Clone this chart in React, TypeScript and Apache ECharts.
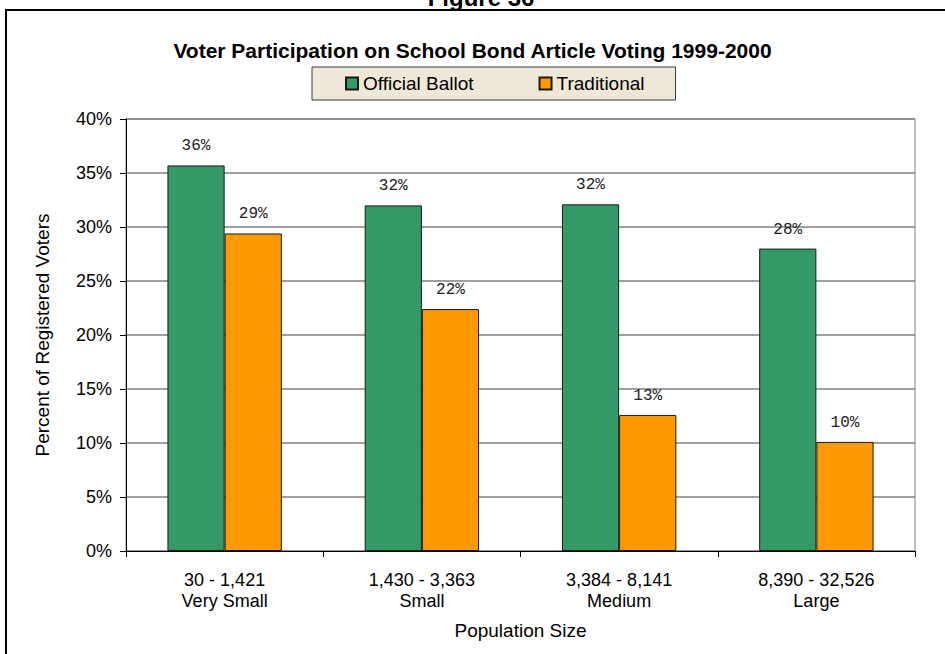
import React, { useEffect, useRef } from "react";
import * as echarts from "echarts";

// Population-size groups (two-line axis labels)
const categories: string[] = [
  "30 - 1,421\nVery Small",
  "1,430 - 3,363\nSmall",
  "3,384 - 8,141\nMedium",
  "8,390 - 32,526\nLarge",
];

// Share of registered voters taking part, by voting method
const officialBallot: number[] = [0.357, 0.320, 0.321, 0.280];
const traditional: number[] = [0.294, 0.224, 0.126, 0.101];

const seriesNames: string[] = ["Official Ballot", "Traditional"];

// Y axis ticks: 0% to 40% in 5% steps
const yMin = 0;
const yMax = 0.4;
const yStep = 0.05;

const GREEN = "#339966";
const ORANGE = "#FF9900";
const FONT = "Arial, 'Liberation Sans', sans-serif";
const MONO = "'Courier New', 'Liberation Mono', monospace";

const pct = (v: number) => `${Math.round(v * 100)}%`;

export default function App() {
  const ref = useRef<HTMLDivElement>(null);

  useEffect(() => {
    document.body.style.margin = "0";
    if (!ref.current) return;
    const chart = echarts.init(ref.current, undefined, { renderer: "svg" });

    const barLabel = {
      show: true,
      position: "top" as const,
      distance: 11,
      fontFamily: MONO,
      fontSize: 16,
      color: "#222",
      formatter: (p: any) => pct(p.value),
    };

    chart.setOption({
      animation: false,
      backgroundColor: "#ffffff",
      title: {
        text: "Voter Participation on School Bond Article Voting 1999-2000",
        left: "center",
        top: 35,
        textStyle: {
          fontFamily: FONT,
          fontSize: 21,
          fontWeight: "bold",
          color: "#000",
        },
      },
      legend: {
        data: seriesNames,
        left: 312,
        top: 67,
        orient: "horizontal",
        icon: "rect",
        itemWidth: 12,
        itemHeight: 12,
        itemGap: 65,
        padding: [7, 31, 7, 33],
        backgroundColor: "#EFE8D8",
        borderColor: "#3a3a3a",
        borderWidth: 1,
        textStyle: { fontFamily: FONT, fontSize: 19, color: "#000" },
      },
      grid: {
        left: 126,
        right: 30,
        top: 119,
        bottom: 103,
        show: true,
        borderColor: "#808080",
        borderWidth: 1,
        backgroundColor: "transparent",
      },
      xAxis: {
        type: "category",
        data: categories,
        name: "Population Size",
        nameLocation: "middle",
        nameGap: 70,
        nameTextStyle: { fontFamily: FONT, fontSize: 19, color: "#000" },
        axisLine: { show: true, lineStyle: { color: "#000", width: 1 } },
        axisTick: { show: true, length: 6, lineStyle: { color: "#000" } },
        axisLabel: {
          fontFamily: FONT,
          fontSize: 18,
          color: "#000",
          lineHeight: 21,
          margin: 18,
        },
        splitLine: { show: false },
      },
      yAxis: {
        type: "value",
        min: yMin,
        max: yMax,
        interval: yStep,
        name: "Percent of Registered Voters",
        nameLocation: "middle",
        nameGap: 74,
        nameTextStyle: { fontFamily: FONT, fontSize: 19, color: "#000" },
        axisLine: { show: true, lineStyle: { color: "#000", width: 1 } },
        axisTick: { show: true, length: 6, lineStyle: { color: "#000" } },
        axisLabel: {
          fontFamily: FONT,
          fontSize: 18,
          color: "#000",
          margin: 14,
          formatter: (v: number) => pct(v),
        },
        splitLine: { show: true, lineStyle: { color: "#808080", width: 1.5 } },
      },
      series: [
        {
          name: seriesNames[0],
          type: "bar",
          data: officialBallot,
          barGap: "0%",
          barCategoryGap: "42%",
          itemStyle: { color: GREEN, borderColor: "#1a1a1a", borderWidth: 1 },
          label: barLabel,
        },
        {
          name: seriesNames[1],
          type: "bar",
          data: traditional,
          barGap: "0%",
          barCategoryGap: "42%",
          itemStyle: { color: ORANGE, borderColor: "#1a1a1a", borderWidth: 1 },
          label: barLabel,
        },
      ],
      graphic: [
        {
          type: "text",
          x: 481,
          y: 9,
          style: {
            text: "Figure 36",
            fontFamily: FONT,
            fontSize: 24,
            fontWeight: "bold",
            fill: "#000",
            align: "center",
            verticalAlign: "bottom",
          },
        },
        {
          type: "line",
          shape: { x1: 5, y1: 10, x2: 945, y2: 10 },
          style: { stroke: "#000", lineWidth: 2 },
        },
        {
          type: "line",
          shape: { x1: 6, y1: 9, x2: 6, y2: 654 },
          style: { stroke: "#000", lineWidth: 2 },
        },
      ],
    });

    return () => chart.dispose();
  }, []);

  return (
    <div
      ref={ref}
      style={{ position: "fixed", left: 0, top: 0, width: 945, height: 654 }}
    />
  );
}
